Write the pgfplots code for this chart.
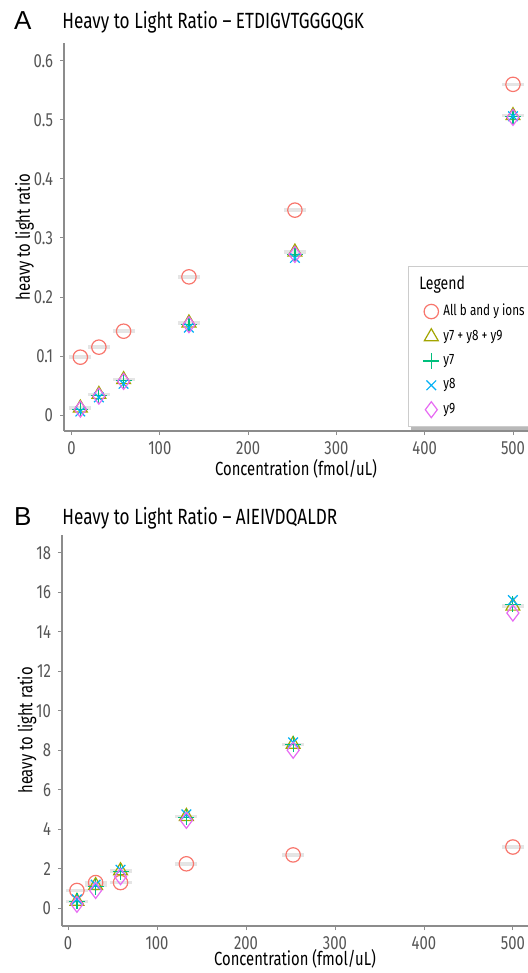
\documentclass[border=0pt]{standalone}
\usepackage{fontspec}
\setmainfont{Fira Sans}[FakeStretch=0.78]
\newfontfamily\panelfont{Liberation Sans}
\usepackage{pgfplots}
\usepackage{pgfplotstable}
\pgfplotsset{compat=1.18}
\usetikzlibrary{shadows}
\definecolor{ggRed}{HTML}{F8766D}
\definecolor{ggOlive}{HTML}{A3A500}
\definecolor{ggGreen}{HTML}{00BF7D}
\definecolor{ggBlue}{HTML}{00B0F6}
\definecolor{ggPink}{HTML}{E76BF3}
\definecolor{AxGray}{RGB}{140,140,140}
\definecolor{TickGray}{RGB}{85,85,85}

% panel A: ETDIGVTGGGQGK
\pgfplotstableread{
x     all    sum    y7     y8     y9
10    0.098  0.012  0.010  0.006  0.010
31    0.115  0.035  0.033  0.030  0.032
59    0.142  0.060  0.058  0.053  0.057
133   0.234  0.156  0.154  0.148  0.153
253   0.347  0.276  0.272  0.266  0.272
500   0.560  0.507  0.505  0.506  0.504
}\tabA
% panel B: AIEIVDQALDR
\pgfplotstableread{
x     all    sum    y7     y8     y9
10    0.90   0.35   0.35   0.45   0.20
31    1.30   1.15   1.10   1.20   0.90
59    1.30   1.90   1.85   1.95   1.60
133   2.25   4.65   4.60   4.75   4.45
253   2.70   8.30   8.30   8.40   8.00
500   3.10   15.30  15.40  15.60  14.95
}\tabB

\pgfplotsset{
  hl/.style={
    scale only axis,
    axis lines*=left,
    axis line style={AxGray,line width=0.6pt},
    tick style={AxGray,line width=0.4pt},
    tick align=outside,
    major tick length=2pt,
    xmin=-8.5,xmax=517,
    xtick={0,100,...,500},
    tick label style={font=\fontsize{9.5}{10}\selectfont,text=TickGray},
    /pgf/number format/assume math mode=true,
    label style={font=\fontsize{9.5}{10}\selectfont},
    xlabel={Concentration (fmol/uL)},
    ylabel={heavy to light ratio},
    xlabel style={yshift=4.5pt},
    ylabel style={yshift=-7pt},
    clip=false,
  },
  band/.style={forget plot,only marks,mark=-,mark size=5.5pt,color=black!10,line width=1.8pt},
  sAll/.style={only marks,mark=o,mark size=3.6pt,color=ggRed,mark options={line width=0.6pt,color=ggRed}},
  sSum/.style={only marks,mark=triangle,mark size=4pt,color=ggOlive,mark options={line width=0.6pt,color=ggOlive}},
  sY7/.style={only marks,mark=+,mark size=4pt,color=ggGreen,mark options={line width=0.6pt,color=ggGreen}},
  sY8/.style={only marks,mark=x,mark size=3.4pt,color=ggBlue,mark options={line width=0.6pt,color=ggBlue}},
  sY9/.style={only marks,mark=diamond,mark size=4pt,color=ggPink,mark options={line width=0.6pt,color=ggPink}},
}

\begin{document}
\begin{tikzpicture}
\path[use as bounding box] (0,0) rectangle (264pt,-486.5pt);

\node[font=\panelfont\fontsize{13}{13}\selectfont,anchor=west] at (3.5pt,-10.5pt) {A};
\node[font=\fontsize{11}{12}\selectfont,anchor=west,inner sep=0pt] at (31pt,-11pt) {Heavy to Light Ratio -- ETDIGVTGGGQGK};

\begin{axis}[hl,
    at={(32pt,-215.5pt)},anchor=south west,
    width=232pt,height=194pt,
    ymin=-0.027,ymax=0.63,
    ytick={0,0.1,...,0.6},
    yticklabel style={/pgf/number format/fixed},
    legend style={at={(0.741,0.425)},anchor=north west,
      draw=black!20,fill=white,
      drop shadow={shadow xshift=1.5pt,shadow yshift=-2pt,opacity=0.55},
      font=\fontsize{7.5}{8}\selectfont,
      row sep=1.6pt,inner xsep=3pt,inner ysep=3pt},
    legend cell align=left,
  ]
\addlegendimage{empty legend}
\addlegendentry{\hspace*{-12pt}\fontsize{9}{10}\selectfont Legend}
\addplot[band] table[x=x,y=all]{\tabA};
\addplot[band] table[x=x,y=sum]{\tabA};
\addplot[sAll] table[x=x,y=all]{\tabA};
\addlegendentry{All b and y ions}
\addplot[sSum] table[x=x,y=sum]{\tabA};
\addlegendentry{y7 + y8 + y9}
\addplot[sY7] table[x=x,y=y7]{\tabA};
\addlegendentry{y7}
\addplot[sY8] table[x=x,y=y8]{\tabA};
\addlegendentry{y8}
\addplot[sY9] table[x=x,y=y9]{\tabA};
\addlegendentry{y9}
\end{axis}

\node[font=\panelfont\fontsize{13}{13}\selectfont,anchor=west] at (3.5pt,-258.5pt) {B};
\node[font=\fontsize{11}{12}\selectfont,anchor=west,inner sep=0pt] at (31pt,-259pt) {Heavy to Light Ratio -- AIEIVDQALDR};

\begin{axis}[hl,
    at={(31pt,-463pt)},anchor=south west,
    width=233pt,height=195.5pt,
    xmin=-6.8,
    ymin=-0.9,ymax=18.9,
    ytick={0,2,...,18},
    xlabel style={yshift=2.5pt},
  ]
\addplot[band] table[x=x,y=all]{\tabB};
\addplot[band] table[x=x,y=sum]{\tabB};
\addplot[sAll] table[x=x,y=all]{\tabB};
\addplot[sSum] table[x=x,y=sum]{\tabB};
\addplot[sY7] table[x=x,y=y7]{\tabB};
\addplot[sY8] table[x=x,y=y8]{\tabB};
\addplot[sY9] table[x=x,y=y9]{\tabB};
\end{axis}
\end{tikzpicture}
\end{document}
